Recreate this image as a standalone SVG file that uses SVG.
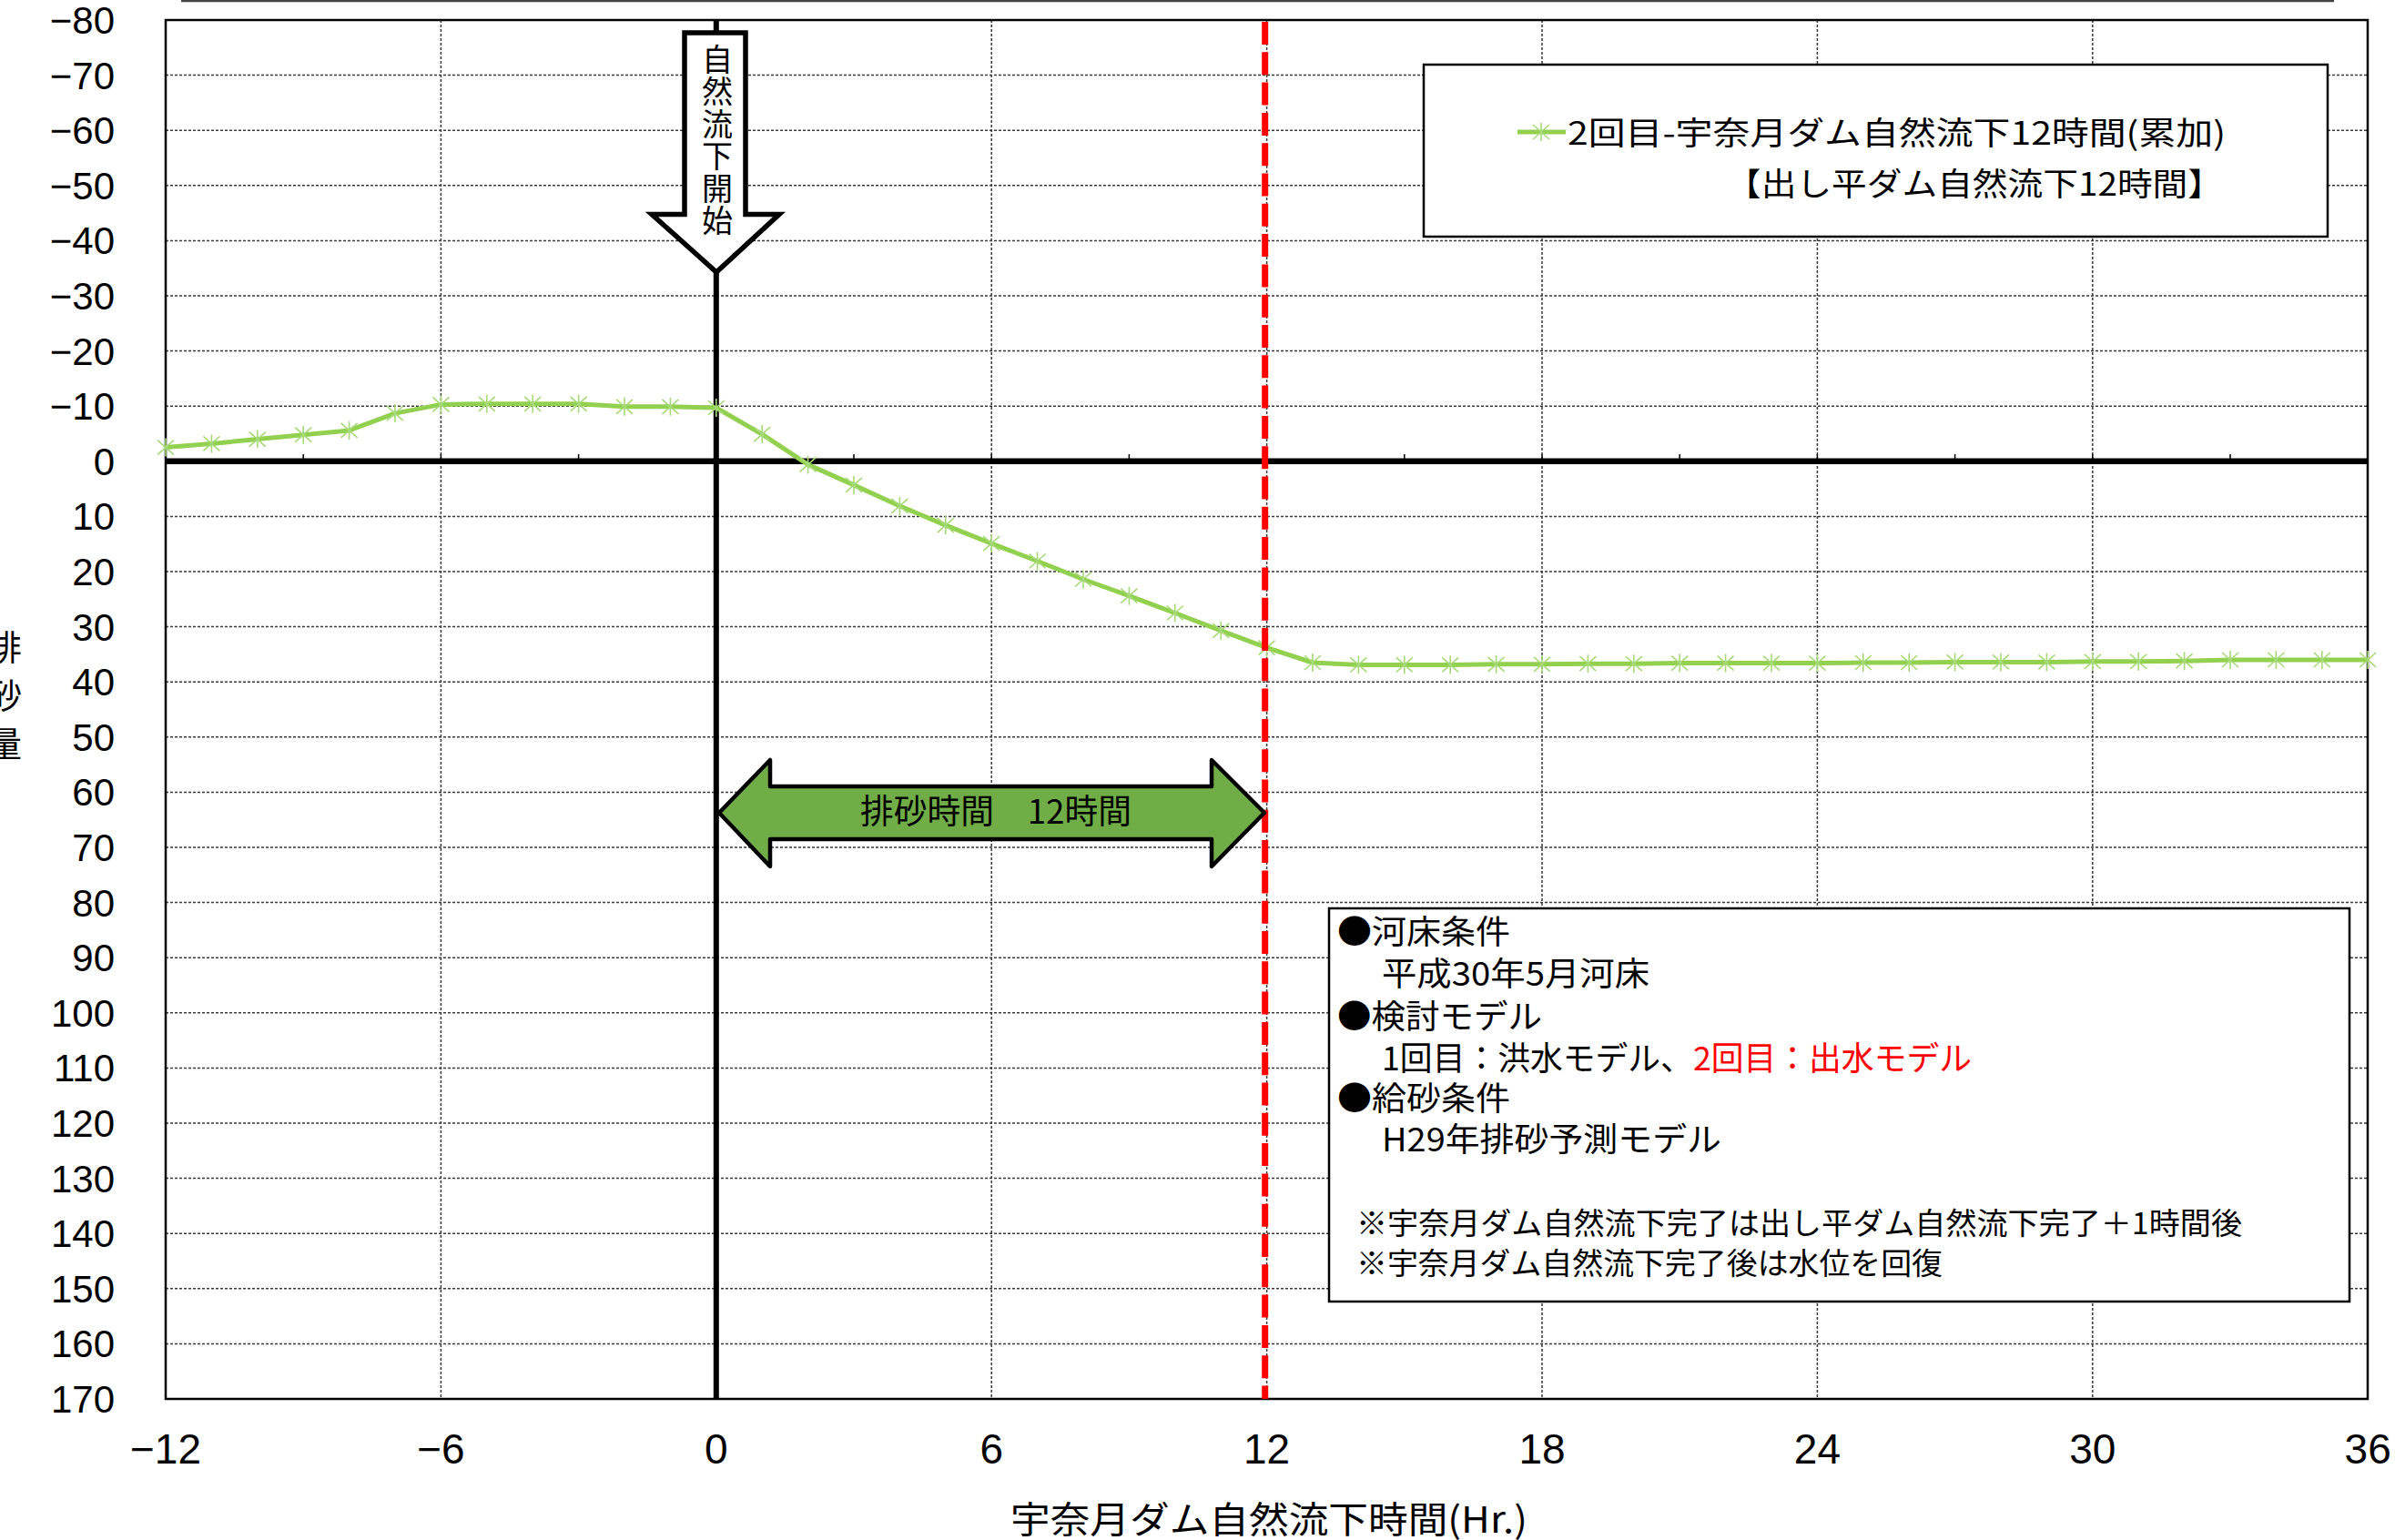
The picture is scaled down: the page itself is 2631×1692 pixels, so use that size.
<svg xmlns="http://www.w3.org/2000/svg" xmlns:xlink="http://www.w3.org/1999/xlink" width="2631" height="1692" viewBox="0 0 2631 1692">
<style>
.grid{stroke:#3a3a3a;stroke-width:1.5;stroke-dasharray:3 2;fill:none}
.ylab{font-family:"Liberation Sans",Arial,sans-serif;font-size:42px;fill:#000;text-anchor:end}
.xlab{font-family:"Liberation Sans",Arial,sans-serif;font-size:46px;fill:#000;text-anchor:middle}
.jp{font-family:"Noto Sans CJK JP","Noto Sans CJK SC",sans-serif;fill:#000}
.vert{writing-mode:vertical-rl}
.mk{stroke:#a6da78;stroke-width:1.6;fill:none}
.box{fill:#fff;stroke:#000;stroke-width:2.5}
</style>
<defs>
<path id="mk" d="M0,-10V10M-9,-8L9,8M-9,8L9,-8"/>
</defs>
<rect width="2631" height="1692" fill="#fff"/>
<line x1="199" y1="1" x2="2564" y2="1" stroke="#444" stroke-width="2.5"/>

<g id="gridlines">
<path class="grid" d="M182,82.6H2601M182,143.2H2601M182,203.8H2601M182,264.4H2601M182,325H2601M182,385.6H2601M182,446.2H2601M182,567.4H2601M182,628H2601M182,688.6H2601M182,749.2H2601M182,809.8H2601M182,870.4H2601M182,931H2601M182,991.6H2601M182,1052.2H2601M182,1112.8H2601M182,1173.4H2601M182,1234H2601M182,1294.6H2601M182,1355.2H2601M182,1415.8H2601M182,1476.4H2601"/>
<path class="grid" d="M484.4,22V1537M1089.2,22V1537M1391.6,22V1537M1694,22V1537M1996.4,22V1537M2298.8,22V1537"/>
</g>

<g id="frame">
<rect x="182" y="22" width="2419" height="1515" fill="none" stroke="#000" stroke-width="2.5"/>
<path d="M333.2,499V507M635.6,499V507M938,499V507M1240.4,499V507M1542.8,499V507M1845.2,499V507M2147.6,499V507M2450,499V507M484.4,499V507M1089.2,499V507M1694,499V507M1996.4,499V507M2298.8,499V507" stroke="#000" stroke-width="1.5"/>
<line x1="182" y1="506.8" x2="2601" y2="506.8" stroke="#000" stroke-width="6.5"/>
<line x1="786.8" y1="22" x2="786.8" y2="1537" stroke="#000" stroke-width="6"/>
</g>

<g id="y-axis-labels">
<text class="ylab" x="126" y="37">−80</text>
<text class="ylab" x="126" y="97.6">−70</text>
<text class="ylab" x="126" y="158.2">−60</text>
<text class="ylab" x="126" y="218.8">−50</text>
<text class="ylab" x="126" y="279.4">−40</text>
<text class="ylab" x="126" y="340">−30</text>
<text class="ylab" x="126" y="400.6">−20</text>
<text class="ylab" x="126" y="461.2">−10</text>
<text class="ylab" x="126" y="521.8">0</text>
<text class="ylab" x="126" y="582.4">10</text>
<text class="ylab" x="126" y="643">20</text>
<text class="ylab" x="126" y="703.6">30</text>
<text class="ylab" x="126" y="764.2">40</text>
<text class="ylab" x="126" y="824.8">50</text>
<text class="ylab" x="126" y="885.4">60</text>
<text class="ylab" x="126" y="946">70</text>
<text class="ylab" x="126" y="1006.6">80</text>
<text class="ylab" x="126" y="1067.2">90</text>
<text class="ylab" x="126" y="1127.8">100</text>
<text class="ylab" x="126" y="1188.4">110</text>
<text class="ylab" x="126" y="1249">120</text>
<text class="ylab" x="126" y="1309.6">130</text>
<text class="ylab" x="126" y="1370.2">140</text>
<text class="ylab" x="126" y="1430.8">150</text>
<text class="ylab" x="126" y="1491.4">160</text>
<text class="ylab" x="126" y="1552">170</text>
</g>

<g id="x-axis-labels">
<text class="xlab" x="182" y="1608">−12</text>
<text class="xlab" x="484.4" y="1608">−6</text>
<text class="xlab" x="786.8" y="1608">0</text>
<text class="xlab" x="1089.2" y="1608">6</text>
<text class="xlab" x="1391.6" y="1608">12</text>
<text class="xlab" x="1694" y="1608">18</text>
<text class="xlab" x="1996.4" y="1608">24</text>
<text class="xlab" x="2298.8" y="1608">30</text>
<text class="xlab" x="2601.2" y="1608">36</text>
</g>

<g id="axis-titles">
<text class="jp" x="1110" y="1684" font-size="40" textLength="568" lengthAdjust="spacingAndGlyphs">宇奈月ダム自然流下時間(Hr.)</text>
<text class="jp vert" x="5" y="692" font-size="38" letter-spacing="15">排砂量</text>
</g>

<g id="series">
<polyline fill="none" stroke="#92d050" stroke-width="5" stroke-linejoin="round" points="182,491.6 232.4,487.4 282.8,482.6 333.2,477.7 383.6,472.9 434,454.1 484.4,444.4 534.8,443.8 585.2,443.8 635.6,443.8 686,446.8 736.4,446.8 786.8,448 837.2,477.1 887.6,510.4 938,532.9 988.4,555.9 1038.8,577.1 1089.2,597.1 1139.6,616.5 1190,636.5 1240.4,654.7 1290.8,673.5 1341.2,692.8 1391.6,711.6 1442,728 1492.4,730.4 1542.8,730.4 1593.2,730.4 1643.6,729.8 1694,729.8 1744.4,729.2 1794.8,729.2 1845.2,728.6 1895.6,728.6 1946,728.6 1996.4,728.6 2046.8,728 2097.2,728 2147.6,727.4 2198,727.4 2248.4,727.4 2298.8,726.8 2349.2,726.8 2399.6,726.2 2450,725 2500.4,725 2550.8,725 2601.2,725"/>
<g class="mk">
<use href="#mk" x="182" y="491.6"/><use href="#mk" x="232.4" y="487.4"/><use href="#mk" x="282.8" y="482.6"/><use href="#mk" x="333.2" y="477.7"/><use href="#mk" x="383.6" y="472.9"/><use href="#mk" x="434" y="454.1"/><use href="#mk" x="484.4" y="444.4"/><use href="#mk" x="534.8" y="443.8"/><use href="#mk" x="585.2" y="443.8"/><use href="#mk" x="635.6" y="443.8"/><use href="#mk" x="686" y="446.8"/><use href="#mk" x="736.4" y="446.8"/><use href="#mk" x="786.8" y="448"/><use href="#mk" x="837.2" y="477.1"/><use href="#mk" x="887.6" y="510.4"/><use href="#mk" x="938" y="532.9"/><use href="#mk" x="988.4" y="555.9"/><use href="#mk" x="1038.8" y="577.1"/><use href="#mk" x="1089.2" y="597.1"/><use href="#mk" x="1139.6" y="616.5"/><use href="#mk" x="1190" y="636.5"/><use href="#mk" x="1240.4" y="654.7"/><use href="#mk" x="1290.8" y="673.5"/><use href="#mk" x="1341.2" y="692.8"/><use href="#mk" x="1391.6" y="711.6"/><use href="#mk" x="1442" y="728"/><use href="#mk" x="1492.4" y="730.4"/><use href="#mk" x="1542.8" y="730.4"/><use href="#mk" x="1593.2" y="730.4"/><use href="#mk" x="1643.6" y="729.8"/><use href="#mk" x="1694" y="729.8"/><use href="#mk" x="1744.4" y="729.2"/><use href="#mk" x="1794.8" y="729.2"/><use href="#mk" x="1845.2" y="728.6"/><use href="#mk" x="1895.6" y="728.6"/><use href="#mk" x="1946" y="728.6"/><use href="#mk" x="1996.4" y="728.6"/><use href="#mk" x="2046.8" y="728"/><use href="#mk" x="2097.2" y="728"/><use href="#mk" x="2147.6" y="727.4"/><use href="#mk" x="2198" y="727.4"/><use href="#mk" x="2248.4" y="727.4"/><use href="#mk" x="2298.8" y="726.8"/><use href="#mk" x="2349.2" y="726.8"/><use href="#mk" x="2399.6" y="726.2"/><use href="#mk" x="2450" y="725"/><use href="#mk" x="2500.4" y="725"/><use href="#mk" x="2550.8" y="725"/><use href="#mk" x="2601.2" y="725"/>
</g>
</g>

<g id="end-line">
<line x1="1389.7" y1="24" x2="1389.7" y2="1537" stroke="#ff0000" stroke-width="7" stroke-dasharray="25 8.3"/>
</g>

<g id="start-arrow">
<path d="M752,36 L819,36 L819,235.5 L856,235.5 L787,299 L716,235.5 L752,235.5 Z" fill="#fff" stroke="#000" stroke-width="5.5" stroke-linejoin="miter"/>
<text class="jp vert" x="788" y="48" font-size="34" letter-spacing="1.4">自然流下開始</text>
</g>

<g id="duration-arrow">
<path d="M790,893 L846,835 L846,864 L1331,864 L1331,835 L1389,893 L1331,952 L1331,922 L846,922 L846,952 Z" fill="#70ad47" stroke="#000" stroke-width="4.5" stroke-linejoin="round"/>
<text class="jp" x="945" y="905" font-size="37" textLength="298" lengthAdjust="spacingAndGlyphs">排砂時間　12時間</text>
</g>

<g id="legend">
<rect class="box" x="1564" y="71" width="993" height="189"/>
<line x1="1667" y1="145" x2="1720" y2="145" stroke="#92d050" stroke-width="5"/>
<use href="#mk" x="1693" y="145" class="mk"/>
<text class="jp" x="1722" y="159" font-size="35" textLength="723" lengthAdjust="spacingAndGlyphs">2回目-宇奈月ダム自然流下12時間(累加)</text>
<text class="jp" x="1896" y="215" font-size="35" textLength="546" lengthAdjust="spacingAndGlyphs">【出し平ダム自然流下12時間】</text>
</g>

<g id="conditions-note">
<rect class="box" x="1460" y="998" width="1121" height="432"/>
<text class="jp" x="1469" y="1037" font-size="36" textLength="190" lengthAdjust="spacingAndGlyphs">●河床条件</text>
<text class="jp" x="1518" y="1083" font-size="36" textLength="294" lengthAdjust="spacingAndGlyphs">平成30年5月河床</text>
<text class="jp" x="1469" y="1130" font-size="36" textLength="225" lengthAdjust="spacingAndGlyphs">●検討モデル</text>
<text class="jp" x="1518" y="1176" font-size="36" textLength="648" lengthAdjust="spacingAndGlyphs">1回目：洪水モデル、<tspan style="fill:#ff0000">2回目：出水モデル</tspan></text>
<text class="jp" x="1469" y="1220" font-size="36" textLength="190" lengthAdjust="spacingAndGlyphs">●給砂条件</text>
<text class="jp" x="1518" y="1265" font-size="36" textLength="373" lengthAdjust="spacingAndGlyphs">H29年排砂予測モデル</text>
<text class="jp" x="1490" y="1356" font-size="33" textLength="973" lengthAdjust="spacingAndGlyphs">※宇奈月ダム自然流下完了は出し平ダム自然流下完了＋1時間後</text>
<text class="jp" x="1490" y="1400" font-size="33" textLength="644" lengthAdjust="spacingAndGlyphs">※宇奈月ダム自然流下完了後は水位を回復</text>
</g>
</svg>
